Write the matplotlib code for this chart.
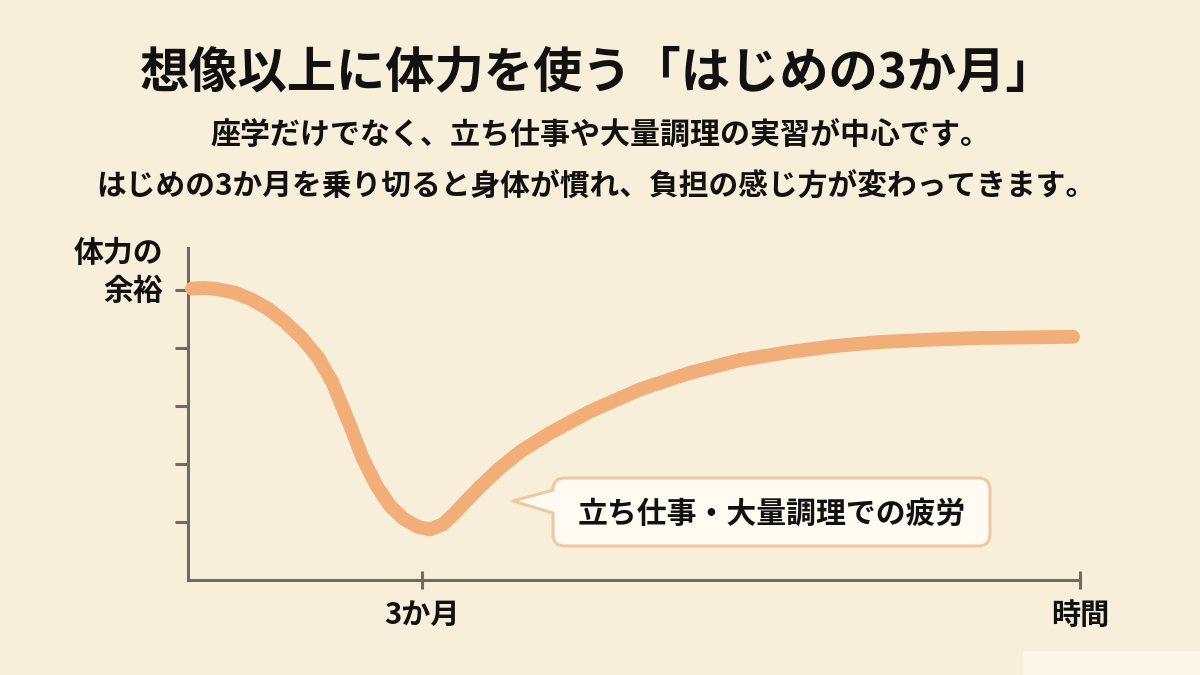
import matplotlib.pyplot as plt
from matplotlib.path import Path
from matplotlib.patches import PathPatch, Rectangle

plt.rcParams['font.family'] = ['Noto Sans CJK JP', 'DejaVu Sans']

# curve: time (months) vs. remaining stamina
months = [0.05, 0.22, 0.38, 0.60, 0.82, 1.03, 1.24, 1.46, 1.67, 1.85, 1.97,
          2.10, 2.24, 2.42, 2.59, 2.76, 2.94, 3.10, 3.27, 3.42, 3.58, 3.74,
          4.00, 4.26, 4.64, 5.15, 5.79, 6.44, 7.08, 7.72, 8.29, 8.87, 9.51,
          10.15, 10.79, 11.35]
stamina = [5.02, 5.03, 5.01, 4.95, 4.83, 4.67, 4.45, 4.17, 3.83, 3.41, 3.02,
           2.59, 2.10, 1.62, 1.28, 1.06, 0.92, 0.87, 0.96, 1.15, 1.38, 1.60,
           1.93, 2.21, 2.53, 2.90, 3.28, 3.57, 3.79, 3.93, 4.03, 4.10, 4.14,
           4.17, 4.18, 4.19]

y_ticks = [1, 2, 3, 4, 5]
x_ticks = [3, 11.44]
x_tick_labels = ["3か月", "時間"]
y_label = "体力の\n余裕"

title = "想像以上に体力を使う「はじめの3か月」"
subtitle = ["座学だけでなく、立ち仕事や大量調理の実習が中心です。",
            "はじめの3か月を乗り切ると身体が慣れ、負担の感じ方が変わってきます。"]
callout = "立ち仕事・大量調理での疲労"

bg = "#F8EFDB"
line_color = "#F2AE78"
axis_color = "#6E6B64"
text_color = "#111111"

W, H = 1200, 675
fig = plt.figure(figsize=(12, 6.75), dpi=100, facecolor=bg)

# main chart axes (pixel box: x 188..1080, y 248..580)
ax = fig.add_axes([188 / W, (H - 580) / H, 892 / W, 332 / H])
ax.set_facecolor(bg)
ax.plot(months, stamina, color=line_color, lw=10, solid_capstyle='round',
        solid_joinstyle='round', clip_on=False, zorder=3)
ax.set_xlim(0, x_ticks[-1])
ax.set_ylim(0, 5.72)
for s in ["top", "right"]:
    ax.spines[s].set_visible(False)
for s in ["left", "bottom"]:
    ax.spines[s].set_color(axis_color)
    ax.spines[s].set_linewidth(2.2)
ax.set_yticks(y_ticks)
ax.set_yticklabels([])
ax.tick_params(axis='y', direction='out', length=9.5, width=2.2, color=axis_color)
ax.set_xticks(x_ticks)
ax.set_xticklabels(x_tick_labels, fontsize=21, fontweight='bold', color=text_color)
ax.tick_params(axis='x', direction='inout', length=13, width=2.2,
               color=axis_color, pad=8)

# overlay in pixel coordinates for texts and callout
ov = fig.add_axes([0, 0, 1, 1], facecolor='none')
ov.set_xlim(0, W)
ov.set_ylim(H, 0)
ov.axis('off')

ov.text(598, 73, title, ha='center', va='center', fontsize=35.5,
        fontweight='bold', color=text_color)
ov.text(600, 135, subtitle[0], ha='center', va='center', fontsize=21.6,
        fontweight='bold', color=text_color)
ov.text(596, 187, subtitle[1], ha='center', va='center', fontsize=21.4,
        fontweight='bold', color=text_color)
ov.text(163, 272, y_label, ha='right', va='center', fontsize=21.5,
        fontweight='bold', color=text_color, linespacing=1.35)

# speech bubble
x0, x1, y0, y1, r = 553, 990, 478, 546, 12
verts = [(x0 + r, y0), (x1 - r, y0), (x1, y0), (x1, y0 + r), (x1, y1 - r),
         (x1, y1), (x1 - r, y1), (x0 + r, y1), (x0, y1), (x0, y1 - r),
         (x0, 513), (513, 501), (x0, 490), (x0, y0 + r), (x0, y0), (x0 + r, y0),
         (x0 + r, y0)]
codes = [Path.MOVETO, Path.LINETO, Path.CURVE3, Path.CURVE3, Path.LINETO,
         Path.CURVE3, Path.CURVE3, Path.LINETO, Path.CURVE3, Path.CURVE3,
         Path.LINETO, Path.LINETO, Path.LINETO, Path.LINETO, Path.CURVE3,
         Path.CURVE3, Path.CLOSEPOLY]
ov.add_patch(PathPatch(Path(verts, codes), facecolor="#FFFBF3",
                       edgecolor="#EDC9A0", lw=2.2, joinstyle='round'))
ov.text((x0 + x1) / 2, 514, callout, ha='center', va='center', fontsize=21.5,
        fontweight='bold', color=text_color)

# light patch in the lower right corner
ov.add_patch(Rectangle((1023, 651), 177, 24, facecolor="#FBF6EA", edgecolor='none'))

fig.savefig("out.png", dpi=100, facecolor=bg)
